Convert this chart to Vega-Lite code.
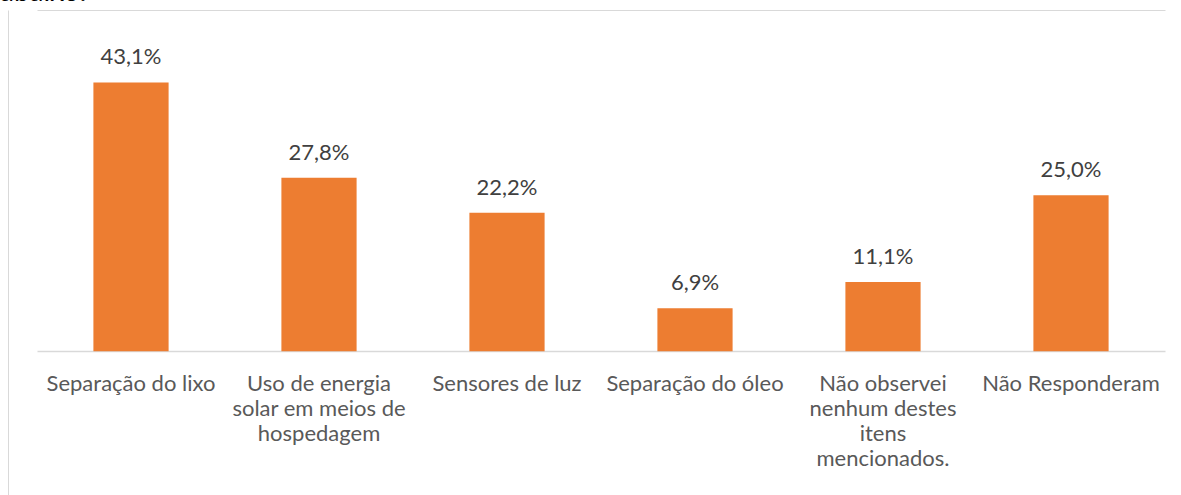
{
  "$schema": "https://vega.github.io/schema/vega-lite/v6.json",
  "width": 1173,
  "height": 485,
  "autosize": {"type": "none"},
  "padding": {"left": 8, "top": 10, "right": 0, "bottom": 0},
  "background": "white",
  "config": {
    "view": {"stroke": null},
    "locale": {"number": {"decimal": ",", "thousands": ".", "grouping": [3], "currency": ["R$", ""]}},
    "font": "Lato"
  },
  "title": {
    "text": "abaixo:",
    "anchor": "start",
    "frame": "group",
    "fontSize": 28,
    "fontWeight": "normal",
    "font": "Lato",
    "color": "#000000",
    "dx": -8,
    "baseline": "alphabetic",
    "offset": 0,
    "dy": 19
  },
  "data": {
    "values": [
      {"item": "Separação do lixo", "valor": 0.431},
      {"item": "Uso de energia|solar em meios de|hospedagem", "valor": 0.278},
      {"item": "Sensores de luz", "valor": 0.222},
      {"item": "Separação do óleo", "valor": 0.069},
      {"item": "Não observei|nenhum destes|itens|mencionados.", "valor": 0.111},
      {"item": "Não Responderam", "valor": 0.25}
    ]
  },
  "encoding": {
    "x": {
      "field": "item",
      "type": "nominal",
      "sort": null,
      "title": null,
      "scale": {"range": [29, 1157], "paddingInner": 0.6, "paddingOuter": 0.3},
      "axis": {
        "orient": "bottom",
        "offset": -144,
        "labelAngle": 0,
        "labelExpr": "split(datum.value, '|')",
        "labelFontSize": 22,
        "labelFont": "Lato",
        "labelColor": "#595959",
        "labelPadding": 22,
        "labelLineHeight": 25,
        "labelLimit": 300,
        "ticks": false,
        "domainColor": "#d9d9d9",
        "domainWidth": 1.5,
        "grid": false
      }
    },
    "y": {
      "field": "valor",
      "type": "quantitative",
      "scale": {"domain": [-0.2303, 0.547], "nice": false, "zero": false},
      "axis": {
        "orient": "left",
        "title": null,
        "labels": false,
        "ticks": false,
        "domain": true,
        "domainColor": "#d9d9d9",
        "domainWidth": 1,
        "grid": true,
        "gridColor": "#d9d9d9",
        "gridWidth": 1,
        "gridOpacity": 1,
        "values": [0.547]
      }
    }
  },
  "layer": [
    {"mark": {"type": "bar", "color": "#ED7D31"}},
    {
      "mark": {"type": "text", "baseline": "alphabetic", "dy": -18, "fontSize": 22, "font": "Lato", "color": "#404040"},
      "encoding": {"text": {"field": "valor", "type": "quantitative", "format": ".1%"}}
    }
  ]
}
